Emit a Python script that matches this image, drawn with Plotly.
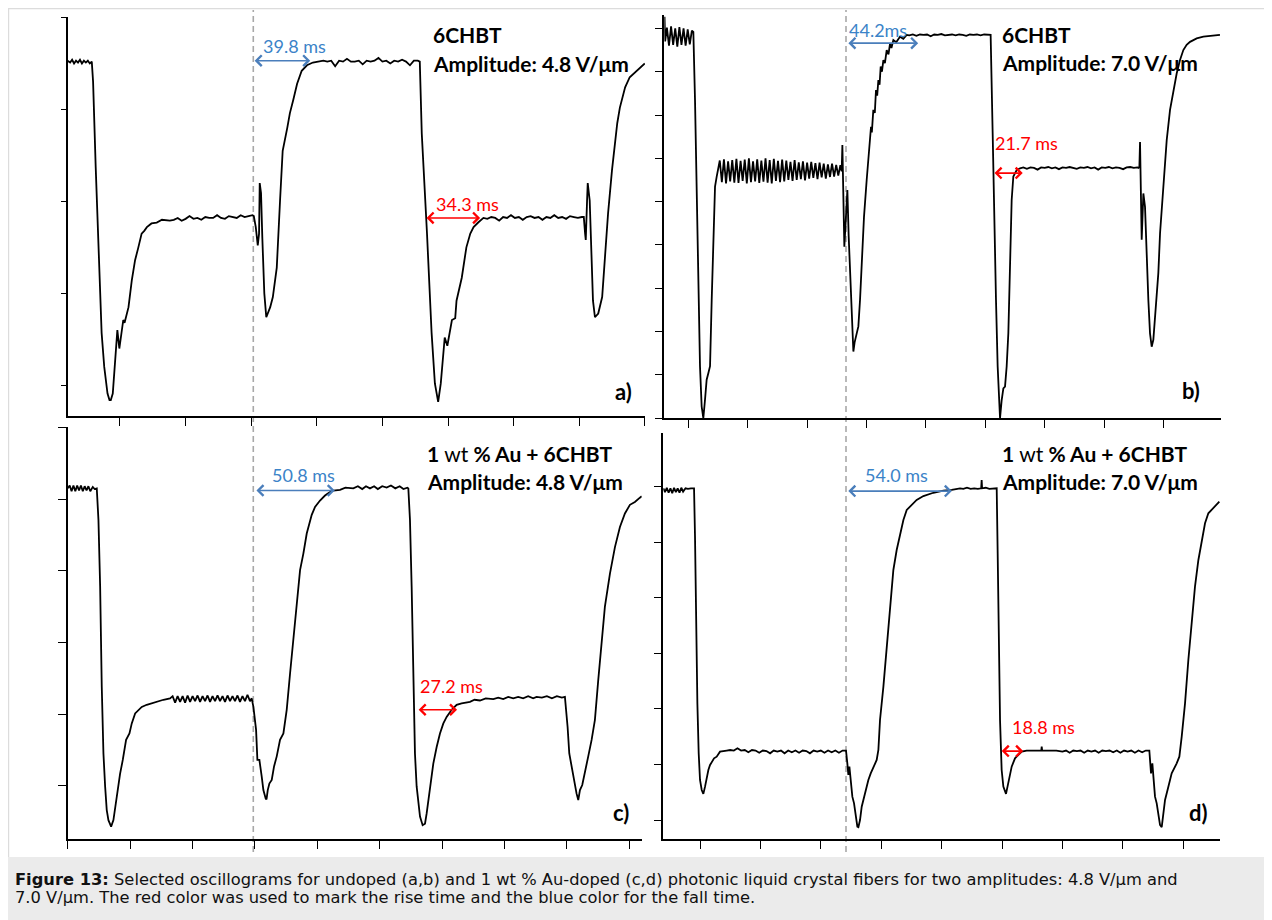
import plotly.graph_objects as go

# ---------------- DATA (time and signal in oscilloscope divisions) ----------------
a_trace = [
    (0.20, 3.53), (0.24, 3.51), (0.27, 3.54), (0.30, 3.50), (0.33, 3.53), (0.36, 3.51), (0.39, 3.54),
    (0.42, 3.50), (0.45, 3.53), (0.48, 3.51), (0.51, 3.53), (0.54, 3.50), (0.57, 3.52),
    (0.59, 3.30), (0.63, 2.37), (0.68, 1.28), (0.72, 0.57), (0.76, 0.20), (0.81, -0.09), (0.84, -0.16), (0.86, -0.16),
    (0.89, -0.09), (0.92, 0.20), (0.95, 0.57), (0.96, 0.60), (0.99, 0.40), (1.03, 0.63), (1.05, 0.71), (1.07, 0.68),
    (1.10, 0.76), (1.13, 0.85), (1.18, 1.14), (1.23, 1.36), (1.28, 1.50), (1.33, 1.65), (1.37, 1.68), (1.41, 1.72),
    (1.48, 1.76), (1.56, 1.77), (1.64, 1.80), (1.71, 1.79),
    (1.76, 1.79), (1.82, 1.80), (1.88, 1.82), (1.94, 1.79), (2.00, 1.81), (2.06, 1.84), (2.12, 1.81), (2.18, 1.82),
    (2.24, 1.80), (2.30, 1.83), (2.36, 1.82), (2.42, 1.82), (2.48, 1.85), (2.54, 1.82), (2.60, 1.81), (2.66, 1.84),
    (2.72, 1.83), (2.78, 1.82), (2.84, 1.85), (2.90, 1.83), (2.96, 1.84), (3.02, 1.85),
    (3.04, 1.84), (3.07, 1.72), (3.10, 1.52), (3.12, 1.65), (3.13, 2.20), (3.15, 2.09), (3.17, 1.60), (3.20, 1.00),
    (3.23, 0.74), (3.25, 0.78), (3.29, 0.85), (3.33, 0.96), (3.39, 1.28), (3.44, 2.01), (3.48, 2.55), (3.55, 2.80),
    (3.59, 2.96), (3.64, 3.10), (3.70, 3.28), (3.77, 3.42), (3.85, 3.48), (3.94, 3.51), (4.05, 3.52),
    (4.10, 3.53), (4.16, 3.52), (4.22, 3.53), (4.28, 3.47), (4.34, 3.53), (4.40, 3.52), (4.46, 3.55), (4.52, 3.52),
    (4.58, 3.52), (4.64, 3.53), (4.70, 3.49), (4.76, 3.53), (4.82, 3.52), (4.88, 3.53), (4.94, 3.56), (5.00, 3.52),
    (5.06, 3.53), (5.12, 3.50), (5.18, 3.53), (5.24, 3.52), (5.30, 3.54), (5.36, 3.52), (5.42, 3.48), (5.48, 3.53),
    (5.54, 3.53),
    (5.57, 3.52), (5.60, 2.74), (5.68, 1.65), (5.75, 0.57), (5.80, 0.02), (5.85, -0.18),
    (5.89, 0.02), (5.93, 0.38), (5.95, 0.52), (5.99, 0.43), (6.03, 0.57), (6.06, 0.71), (6.11, 0.73), (6.13, 0.92),
    (6.21, 1.17), (6.28, 1.50), (6.34, 1.65), (6.39, 1.72), (6.46, 1.77), (6.54, 1.82),
    (6.60, 1.81), (6.66, 1.83), (6.72, 1.82), (6.78, 1.79), (6.84, 1.83), (6.90, 1.82), (6.96, 1.85), (7.02, 1.82),
    (7.08, 1.83), (7.14, 1.80), (7.20, 1.83), (7.26, 1.84), (7.32, 1.82), (7.38, 1.83), (7.44, 1.80), (7.50, 1.83),
    (7.56, 1.82), (7.62, 1.85), (7.68, 1.82), (7.74, 1.83), (7.80, 1.81), (7.86, 1.84), (7.92, 1.83), (7.98, 1.82),
    (8.04, 1.83),
    (8.07, 1.83), (8.09, 1.65), (8.10, 1.58), (8.12, 2.01), (8.13, 2.20), (8.16, 2.01), (8.18, 1.47), (8.21, 0.92),
    (8.24, 0.74), (8.29, 0.78), (8.35, 0.96), (8.39, 1.39), (8.44, 1.87), (8.50, 2.34), (8.58, 2.85), (8.62, 3.02),
    (8.70, 3.24), (8.77, 3.35), (8.85, 3.40), (8.93, 3.45), (9.00, 3.50),
]

b_trace = [
    (0.600, 9.27), (0.610, 8.70), (0.640, 9.02), (0.675, 8.60), (0.710, 9.05), (0.745, 8.62), (0.780, 9.00),
    (0.815, 8.58), (0.850, 9.03), (0.885, 8.62), (0.920, 9.00), (0.955, 8.60), (0.990, 8.98), (1.025, 8.63),
    (1.060, 8.95), (1.085, 8.92),
    (1.113, 7.35), (1.141, 5.04), (1.169, 2.73), (1.197, 1.20), (1.225, 0.27), (1.253, 0.00),
    (1.281, 0.42), (1.309, 0.89), (1.337, 1.04), (1.366, 1.20), (1.394, 2.73), (1.422, 4.27), (1.450, 5.35),
    (1.478, 5.58), (1.506, 5.81),
    (1.530, 5.95), (1.565, 5.45), (1.600, 5.98), (1.635, 5.42), (1.670, 5.93), (1.705, 5.47), (1.740, 5.96),
    (1.775, 5.44), (1.810, 5.99), (1.845, 5.43), (1.880, 5.94), (1.915, 5.48), (1.950, 5.97), (1.985, 5.42),
    (2.020, 6.00), (2.055, 5.45), (2.090, 5.93), (2.125, 5.47), (2.160, 5.98), (2.195, 5.43), (2.230, 5.95),
    (2.265, 5.46), (2.300, 6.00), (2.335, 5.44), (2.370, 5.96), (2.405, 5.42), (2.440, 5.99), (2.475, 5.48),
    (2.510, 5.94), (2.545, 5.45), (2.580, 5.97), (2.615, 5.47), (2.650, 5.95), (2.685, 5.50), (2.720, 5.92),
    (2.755, 5.48), (2.790, 5.96), (2.825, 5.50), (2.860, 5.91), (2.895, 5.52), (2.930, 5.93), (2.965, 5.49),
    (3.000, 5.90), (3.035, 5.53), (3.070, 5.92), (3.105, 5.55), (3.140, 5.89), (3.175, 5.52), (3.210, 5.90),
    (3.245, 5.56), (3.280, 5.88), (3.315, 5.53), (3.350, 5.86), (3.385, 5.57), (3.420, 5.88), (3.455, 5.58),
    (3.490, 5.85), (3.525, 5.60), (3.560, 5.84),
    (3.582, 5.70), (3.594, 6.31), (3.627, 3.96), (3.650, 4.60), (3.678, 5.27), (3.700, 4.20), (3.722, 3.50),
    (3.751, 2.35), (3.779, 1.54), (3.800, 1.75), (3.824, 1.89), (3.863, 2.12), (3.891, 2.73), (3.919, 3.50),
    (3.958, 4.65), (4.003, 5.50), (4.042, 6.12), (4.076, 6.73), (4.090, 6.60), (4.115, 7.12), (4.140, 7.05),
    (4.160, 7.58), (4.180, 7.45), (4.200, 7.81), (4.220, 7.70), (4.239, 8.12), (4.260, 8.00), (4.284, 8.27),
    (4.310, 8.20), (4.340, 8.50), (4.370, 8.40), (4.396, 8.65), (4.420, 8.55), (4.452, 8.73), (4.500, 8.68),
    (4.564, 8.81), (4.620, 8.76), (4.677, 8.85),
    (4.72, 8.84), (4.78, 8.86), (4.84, 8.83), (4.90, 8.86), (4.96, 8.85), (5.02, 8.86), (5.08, 8.82), (5.14, 8.86),
    (5.20, 8.85), (5.26, 8.87), (5.32, 8.84), (5.38, 8.85), (5.44, 8.86), (5.50, 8.84), (5.56, 8.86), (5.62, 8.85),
    (5.68, 8.83), (5.74, 8.86), (5.80, 8.85), (5.86, 8.86), (5.92, 8.84), (5.98, 8.86), (6.04, 8.85), (6.09, 8.85),
    (6.124, 6.58), (6.152, 4.27), (6.180, 2.73), (6.208, 1.20), (6.237, 0.04), (6.248, 0.00),
    (6.276, 0.42), (6.304, 0.69), (6.332, 0.73), (6.360, 1.20), (6.388, 1.96), (6.416, 3.50), (6.444, 5.04),
    (6.472, 5.58), (6.528, 5.73), (6.585, 5.77),
    (6.64, 5.79), (6.70, 5.76), (6.76, 5.79), (6.82, 5.78), (6.88, 5.74), (6.94, 5.79), (7.00, 5.78), (7.06, 5.80),
    (7.12, 5.77), (7.18, 5.79), (7.24, 5.75), (7.30, 5.79), (7.36, 5.78), (7.42, 5.80), (7.48, 5.78), (7.54, 5.76),
    (7.60, 5.79), (7.66, 5.78), (7.72, 5.80), (7.78, 5.77), (7.84, 5.79), (7.90, 5.74), (7.96, 5.79), (8.02, 5.78),
    (8.08, 5.80), (8.14, 5.77), (8.20, 5.79), (8.26, 5.78), (8.32, 5.75), (8.38, 5.79), (8.44, 5.80), (8.50, 5.78),
    (8.56, 5.79), (8.577, 5.78),
    (8.594, 5.80), (8.605, 6.38), (8.633, 4.12), (8.661, 5.19), (8.689, 4.88), (8.717, 3.65), (8.745, 2.73),
    (8.773, 1.96), (8.801, 1.65), (8.829, 1.81), (8.857, 2.27), (8.885, 2.73), (8.913, 3.35), (8.942, 4.27),
    (8.998, 5.42), (9.054, 6.42), (9.110, 7.12), (9.166, 7.58), (9.222, 7.96), (9.278, 8.27), (9.334, 8.50),
    (9.390, 8.62), (9.447, 8.69), (9.503, 8.73), (9.559, 8.77), (9.671, 8.81), (9.783, 8.82), (9.950, 8.85),
]

c_trace = [
    (0.00, 4.15), (0.03, 4.19), (0.06, 4.11), (0.09, 4.19), (0.12, 4.11), (0.15, 4.19), (0.18, 4.12), (0.21, 4.19),
    (0.24, 4.11), (0.27, 4.18), (0.30, 4.12), (0.33, 4.18), (0.36, 4.11), (0.40, 4.17), (0.43, 4.14), (0.464, 4.15),
    (0.491, 3.71), (0.518, 2.78), (0.544, 1.38), (0.571, 0.45), (0.598, -0.01), (0.624, -0.34), (0.651, -0.48),
    (0.694, -0.57), (0.731, -0.48), (0.785, -0.15), (0.838, 0.17), (0.881, 0.36), (0.934, 0.64), (0.988, 0.73),
    (1.025, 0.87), (1.079, 1.01), (1.132, 1.06), (1.185, 1.10), (1.265, 1.13), (1.372, 1.16), (1.533, 1.20),
    (1.639, 1.22),
    (1.68, 1.25), (1.72, 1.16), (1.76, 1.25), (1.80, 1.17), (1.84, 1.25), (1.88, 1.16), (1.92, 1.26), (1.96, 1.17),
    (2.00, 1.25), (2.04, 1.18), (2.08, 1.26), (2.12, 1.17), (2.16, 1.25), (2.20, 1.18), (2.24, 1.26), (2.28, 1.17),
    (2.32, 1.25), (2.36, 1.18), (2.40, 1.26), (2.44, 1.18), (2.48, 1.25), (2.52, 1.17), (2.56, 1.26), (2.60, 1.18),
    (2.64, 1.25), (2.68, 1.18), (2.72, 1.26), (2.76, 1.17), (2.80, 1.25), (2.84, 1.18), (2.88, 1.27), (2.92, 1.18),
    (2.948, 1.22),
    (2.975, 1.10), (3.002, 0.92), (3.018, 0.78), (3.039, 0.36), (3.071, 0.36), (3.108, 0.13), (3.135, -0.06),
    (3.173, -0.18), (3.185, -0.19), (3.205, -0.06), (3.231, 0.03), (3.269, 0.08), (3.306, 0.27), (3.349, 0.41),
    (3.402, 0.64), (3.456, 0.73), (3.509, 1.06), (3.563, 1.57), (3.616, 2.08), (3.669, 2.54), (3.723, 3.01),
    (3.776, 3.24), (3.830, 3.52), (3.910, 3.78), (3.963, 3.89), (4.043, 3.98), (4.123, 4.05), (4.203, 4.10),
    (4.257, 4.12), (4.364, 4.13), (4.45, 4.16), (4.577, 4.15), (4.65, 4.18), (4.72, 4.14), (4.78, 4.18),
    (4.844, 4.15), (4.91, 4.18), (4.97, 4.14), (5.04, 4.18), (5.111, 4.16), (5.18, 4.19), (5.25, 4.15), (5.32, 4.18),
    (5.38, 4.14), (5.443, 4.16), (5.459, 4.15),
    (5.485, 3.71), (5.512, 2.78), (5.539, 1.38), (5.565, 0.45), (5.592, -0.01), (5.619, -0.25), (5.646, -0.43),
    (5.688, -0.55), (5.726, -0.53), (5.752, -0.39), (5.806, -0.01), (5.859, 0.31), (5.913, 0.54), (5.966, 0.73),
    (6.020, 0.87), (6.073, 0.96), (6.153, 1.06), (6.233, 1.13), (6.313, 1.15), (6.447, 1.17),
    (6.52, 1.20), (6.607, 1.19), (6.70, 1.22), (6.821, 1.21), (6.90, 1.23), (6.98, 1.21), (7.06, 1.24), (7.141, 1.22),
    (7.22, 1.24), (7.30, 1.22), (7.38, 1.25), (7.46, 1.22), (7.515, 1.24), (7.60, 1.23), (7.68, 1.25), (7.76, 1.22),
    (7.84, 1.25), (7.92, 1.23), (7.969, 1.24),
    (7.985, 1.10), (7.996, 0.92), (8.012, 0.82), (8.039, 0.45), (8.060, 0.34), (8.103, 0.17), (8.130, 0.03),
    (8.156, -0.11), (8.183, -0.20), (8.210, -0.06), (8.247, 0.01), (8.290, 0.17), (8.343, 0.41), (8.397, 0.64),
    (8.450, 0.92), (8.503, 1.47), (8.557, 2.03), (8.610, 2.50), (8.691, 2.96), (8.771, 3.33), (8.851, 3.61),
    (8.931, 3.80), (9.011, 3.92), (9.091, 3.96), (9.171, 4.02), (9.200, 4.04),
]

d_trace = [
    (0.393, 5.97), (0.42, 5.90), (0.45, 5.98), (0.48, 5.89), (0.51, 5.97), (0.54, 5.88), (0.57, 5.98), (0.60, 5.90),
    (0.63, 5.97), (0.66, 5.89), (0.69, 5.98), (0.72, 5.91), (0.76, 5.97), (0.80, 5.96), (0.85, 5.97), (0.890, 5.97),
    (0.901, 5.97), (0.917, 5.10), (0.934, 3.60), (0.956, 2.10), (0.978, 1.20), (1.000, 0.72), (1.028, 0.54),
    (1.055, 0.47), (1.083, 0.60), (1.110, 0.78), (1.138, 0.90), (1.166, 0.99), (1.193, 1.05), (1.232, 1.11),
    (1.276, 1.14), (1.331, 1.23), (1.442, 1.25),
    (1.50, 1.26), (1.56, 1.25), (1.62, 1.29), (1.68, 1.25), (1.74, 1.26), (1.80, 1.22), (1.86, 1.26), (1.92, 1.25),
    (1.98, 1.21), (2.04, 1.25), (2.10, 1.24), (2.16, 1.20), (2.22, 1.25), (2.28, 1.23), (2.34, 1.25), (2.40, 1.20),
    (2.46, 1.25), (2.52, 1.22), (2.58, 1.25), (2.64, 1.21), (2.70, 1.25), (2.76, 1.24), (2.82, 1.20), (2.88, 1.25),
    (2.94, 1.23), (3.00, 1.25), (3.06, 1.21), (3.12, 1.25), (3.18, 1.22), (3.24, 1.25), (3.30, 1.21), (3.36, 1.25),
    (3.401, 1.25),
    (3.417, 1.25), (3.439, 1.02), (3.456, 0.81), (3.473, 0.96), (3.495, 0.72), (3.522, 0.42), (3.550, 0.30),
    (3.577, 0.12), (3.605, -0.12), (3.622, -0.13), (3.649, 0.00), (3.677, 0.24), (3.704, 0.36), (3.749, 0.54),
    (3.787, 0.72), (3.826, 0.84), (3.870, 0.96), (3.925, 1.08), (3.953, 1.26), (3.980, 1.80), (4.036, 2.40),
    (4.091, 3.12), (4.146, 3.90), (4.201, 4.50), (4.256, 4.86), (4.311, 5.16), (4.367, 5.40), (4.422, 5.58),
    (4.505, 5.67), (4.587, 5.76), (4.698, 5.83), (4.863, 5.89), (5.029, 5.93), (5.167, 5.94), (5.305, 5.97),
    (5.36, 5.96), (5.42, 5.98), (5.48, 5.96), (5.54, 5.97), (5.60, 5.96), (5.655, 5.97), (5.663, 6.12), (5.67, 5.97),
    (5.73, 5.98), (5.79, 5.96), (5.85, 5.97), (5.901, 5.97),
    (5.912, 5.97), (5.928, 4.80), (5.945, 3.00), (5.967, 1.80), (5.994, 0.90), (6.022, 0.60), (6.066, 0.47),
    (6.088, 0.60), (6.121, 0.78), (6.160, 0.96), (6.215, 1.11), (6.270, 1.17), (6.326, 1.23), (6.408, 1.25),
    (6.50, 1.25), (6.60, 1.25), (6.650, 1.25), (6.657, 1.32), (6.665, 1.25), (6.78, 1.25), (6.90, 1.25), (7.00, 1.23),
    (7.06, 1.25), (7.12, 1.21), (7.18, 1.25), (7.24, 1.24), (7.30, 1.25), (7.36, 1.21), (7.42, 1.25), (7.48, 1.23),
    (7.54, 1.25), (7.60, 1.21), (7.66, 1.25), (7.72, 1.24), (7.78, 1.25), (7.84, 1.22), (7.90, 1.25), (7.96, 1.21),
    (8.02, 1.25), (8.08, 1.23), (8.14, 1.25), (8.20, 1.21), (8.26, 1.25), (8.32, 1.22), (8.38, 1.25), (8.439, 1.25),
    (8.450, 1.08), (8.467, 0.84), (8.489, 1.02), (8.506, 0.72), (8.533, 0.42), (8.561, 0.30), (8.588, 0.12),
    (8.616, -0.09), (8.644, -0.13), (8.671, 0.18), (8.699, 0.36), (8.754, 0.60), (8.809, 0.84), (8.892, 1.02),
    (8.936, 1.14), (8.975, 1.50), (9.030, 2.10), (9.085, 2.88), (9.140, 3.60), (9.195, 4.20), (9.251, 4.68),
    (9.306, 5.04), (9.361, 5.34), (9.416, 5.52), (9.499, 5.61), (9.554, 5.67), (9.598, 5.73),
]

sample_names = ["<b>6CHBT</b>", "<b>6CHBT</b>", "<b>1 </b>wt<b> % Au + 6CHBT</b>", "<b>1 </b>wt<b> % Au + 6CHBT</b>"]
amplitudes = ["Amplitude: 4.8 V/μm", "Amplitude: 7.0 V/μm", "Amplitude: 4.8 V/μm", "Amplitude: 7.0 V/μm"]
panel_labels = ["a)", "b)", "c)", "d)"]
fall_labels = ["39.8 ms", "44.2ms", "50.8 ms", "54.0 ms"]
rise_labels = ["34.3 ms", "21.7 ms", "27.2 ms", "18.8 ms"]
# arrow spans (start div, end div, level div)
fall_spans = [(3.03, 3.90, 3.53), (3.67, 4.87, 8.66), (3.00, 4.28, 4.12), (3.43, 5.17, 5.92)]
rise_spans = [(5.65, 6.49, 1.82), (6.13, 6.63, 5.66), (5.60, 6.24, 1.06), (5.97, 6.35, 1.24)]
switch_time = [3.032, 3.655]  # vertical dashed marker (in panels a and b units)

caption_1 = ("<b>Figure 13:</b> Selected oscillograms for undoped (a,b) and 1 wt % Au-doped (c,d) photonic "
             "liquid crystal fibers for two amplitudes: 4.8 V/µm and")
caption_2 = "7.0 V/µm. The red color was used to mark the rise time and the blue color for the fall time."

# ---------------- LAYOUT / STYLE ----------------
OFF = 8            # page body margin of the html page
W, H = 1272 - OFF, 920 - OFF
def fx(px):
    return (px - OFF) / W
def fy(py):
    return 1 - (py - OFF) / H

panels = [
    dict(xdom=(67.7, 645.0), ydom=(17.3, 416.0), xr=(0.203, 9.003), yr=(-0.334, 4.002),
         xt=list(range(1, 10)), yt=list(range(0, 5)), ylen=5,
         title_x=5.74, title_y=(3.81, 3.50), lab=(8.67, -0.07), fall_txt=(3.15, 3.69), rise_txt=(5.78, 1.97)),
    dict(xdom=(664.3, 1220.7), ydom=(15.0, 418.3), xr=(0.596, 9.963), yr=(-0.002, 9.31),
         xt=list(range(1, 10)), yt=list(range(0, 10)), ylen=8,
         title_x=6.25, title_y=(8.86, 8.22), lab=(9.47, 0.63), fall_txt=(3.67, 8.96), rise_txt=(6.13, 6.35)),
    dict(xdom=(67.7, 641.7), ydom=(427.3, 839.0), xr=(-0.002, 9.2), yr=(-0.743, 5.002),
         xt=list(range(0, 10)), yt=list(range(0, 6)), ylen=8,
         title_x=5.73, title_y=(4.63, 4.24), lab=(8.875, -0.37), fall_txt=(3.24, 4.33), rise_txt=(5.61, 1.39)),
    dict(xdom=(663.3, 1220.0), ydom=(433.3, 839.0), xr=(0.392, 9.609), yr=(-0.342, 6.96),
         xt=list(range(1, 10)), yt=list(range(0, 7)), ylen=8,
         title_x=5.97, title_y=(6.60, 6.09), lab=(9.26, 0.14), fall_txt=(3.70, 6.21), rise_txt=(6.13, 1.68)),
]
traces = [a_trace, b_trace, c_trace, d_trace]

TXT_FONT = "Lato, 'Open Sans', sans-serif"
CAP_FONT = "'DejaVu Sans', 'Liberation Sans', Arial, sans-serif"
BLUE_TXT = "#3b83c8"
BLUE_ARR = "#4a7ebb"
RED = "#ff0000"

fig = go.Figure()
annotations = []
shapes = []
layout_axes = {}

for i, (p, tr) in enumerate(zip(panels, traces)):
    n = "" if i == 0 else str(i + 1)
    xa, ya = "x" + n, "y" + n
    fig.add_trace(go.Scatter(
        x=[t for t, v in tr], y=[v for t, v in tr], mode="lines",
        line=dict(color="black", width=1.8), xaxis=xa, yaxis=ya,
        showlegend=False, hoverinfo="skip"))
    layout_axes["xaxis" + n] = dict(
        domain=[fx(p["xdom"][0]), fx(p["xdom"][1])], range=list(p["xr"]), anchor=ya,
        tickmode="array", tickvals=p["xt"], showticklabels=False, ticks="outside", ticklen=8,
        tickwidth=1.3, tickcolor="black", showline=True, linecolor="black", linewidth=1.6,
        showgrid=False, zeroline=False, fixedrange=True)
    layout_axes["yaxis" + n] = dict(
        domain=[fy(p["ydom"][1]), fy(p["ydom"][0])], range=list(p["yr"]), anchor=xa,
        tickmode="array", tickvals=p["yt"], showticklabels=False, ticks="outside", ticklen=p["ylen"],
        tickwidth=1.3, tickcolor="black", showline=True, linecolor="black", linewidth=1.6,
        showgrid=False, zeroline=False, fixedrange=True)

    annotations.append(dict(xref=xa, yref=ya, x=p["title_x"], y=p["title_y"][0], xanchor="left",
                            yanchor="middle", showarrow=False, text=sample_names[i],
                            font=dict(family=TXT_FONT, size=21, color="black")))
    annotations.append(dict(xref=xa, yref=ya, x=p["title_x"], y=p["title_y"][1], xanchor="left",
                            yanchor="middle", showarrow=False, text="<b>" + amplitudes[i] + "</b>",
                            font=dict(family=TXT_FONT, size=21, color="black")))
    annotations.append(dict(xref=xa, yref=ya, x=p["lab"][0], y=p["lab"][1], xanchor="center",
                            yanchor="middle", showarrow=False, text="<b>" + panel_labels[i] + "</b>",
                            font=dict(family=TXT_FONT, size=22, color="black")))
    annotations.append(dict(xref=xa, yref=ya, x=p["fall_txt"][0], y=p["fall_txt"][1], xanchor="left",
                            yanchor="middle", showarrow=False, text=fall_labels[i],
                            font=dict(family=TXT_FONT, size=18, color=BLUE_TXT)))
    annotations.append(dict(xref=xa, yref=ya, x=p["rise_txt"][0], y=p["rise_txt"][1], xanchor="left",
                            yanchor="middle", showarrow=False, text=rise_labels[i],
                            font=dict(family=TXT_FONT, size=18, color=RED)))
    for (t0, t1, lv), col in ((fall_spans[i], BLUE_ARR), (rise_spans[i], RED)):
        annotations.append(dict(xref=xa, yref=ya, axref=xa, ayref=ya, x=t1, y=lv, ax=t0, ay=lv,
                                text="", showarrow=True, arrowhead=4, startarrowhead=4,
                                arrowside="end+start", arrowsize=1.3, startarrowsize=1.3,
                                arrowwidth=1.6, arrowcolor=col, standoff=0, startstandoff=0))

# dashed switching markers spanning both rows
for xa, t in (("x", switch_time[0]), ("x2", switch_time[1])):
    shapes.append(dict(type="line", xref=xa, yref="paper", x0=t, x1=t, y0=fy(852), y1=fy(10),
                       line=dict(color="#a8a8a8", width=1.6, dash="6px,4px"), layer="below"))

# frame and caption box
shapes.append(dict(type="rect", xref="paper", yref="paper", x0=0, x1=1.0, y0=0, y1=fy(857),
                   fillcolor="#ebebeb", line=dict(width=0), layer="below"))
shapes.append(dict(type="line", xref="paper", yref="paper", x0=0, x1=1.0, y0=fy(8.6), y1=fy(8.6),
                   line=dict(color="#dcdcdc", width=1.2), layer="below"))
shapes.append(dict(type="line", xref="paper", yref="paper", x0=fx(8.6), x1=fx(8.6), y0=fy(857), y1=fy(8.6),
                   line=dict(color="#dcdcdc", width=1.2), layer="below"))

annotations.append(dict(xref="paper", yref="paper", x=fx(13), y=fy(879), xanchor="left", yanchor="middle",
                        showarrow=False, text=caption_1,
                        font=dict(family=CAP_FONT, size=16.3, color="#111111")))
annotations.append(dict(xref="paper", yref="paper", x=fx(13), y=fy(897.5), xanchor="left", yanchor="middle",
                        showarrow=False, text=caption_2,
                        font=dict(family=CAP_FONT, size=16.3, color="#111111")))

fig.update_layout(
    width=W, height=H, margin=dict(l=0, r=0, t=0, b=0),
    paper_bgcolor="white", plot_bgcolor="rgba(0,0,0,0)",
    annotations=annotations, shapes=shapes, showlegend=False,
    **layout_axes)

fig.write_html("out.html", include_plotlyjs=True, config={"displayModeBar": False})
